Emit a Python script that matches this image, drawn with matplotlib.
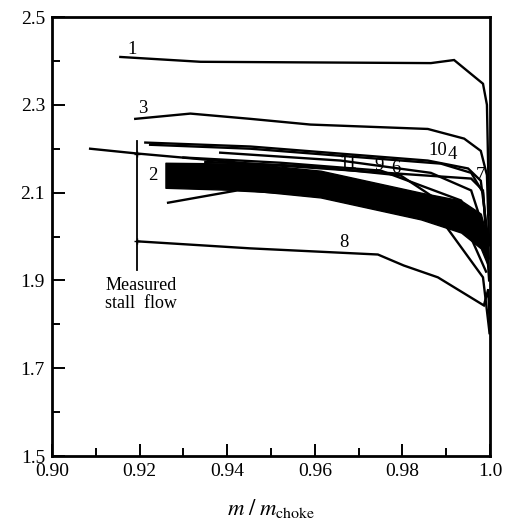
import matplotlib
matplotlib.use("Agg")
import matplotlib.pyplot as plt
from matplotlib.ticker import FixedLocator

plt.rcParams['font.family'] = 'serif'
plt.rcParams['font.serif'] = ['Liberation Serif', 'DejaVu Serif']
plt.rcParams['mathtext.fontset'] = 'stix'

# ---- data ----
c1_x = [0.9156, 0.9339, 0.9865, 0.9918, 0.9984, 0.9993, 0.9998]
c1_y = [2.409, 2.398, 2.395, 2.402, 2.348, 2.30, 2.05]

c3_x = [0.9190, 0.9316, 0.9453, 0.9590, 0.9858, 0.9941, 0.9979, 0.9993, 0.9998]
c3_y = [2.268, 2.280, 2.268, 2.255, 2.245, 2.223, 2.195, 2.14, 1.98]

c10_x = [0.9213, 0.9453, 0.9858, 0.9950, 0.9979, 0.9995]
c10_y = [2.214, 2.205, 2.173, 2.155, 2.127, 2.00]

c4_x = [0.9224, 0.9453, 0.9888, 0.9957, 0.9984, 0.9997]
c4_y = [2.209, 2.200, 2.166, 2.145, 2.100, 1.95]

c7_x = [0.9087, 0.9195, 0.9453, 0.9957, 0.9984, 0.9998]
c7_y = [2.200, 2.189, 2.166, 2.132, 2.105, 1.90]

c11_x = [0.9384, 0.9659, 0.9865, 0.9957, 0.9991]
c11_y = [2.191, 2.173, 2.145, 2.105, 2.00]

c9_x = [0.9300, 0.9522, 0.9751, 0.9934, 0.9986]
c9_y = [2.180, 2.168, 2.150, 2.082, 1.98]

c6_x = [0.9350, 0.9590, 0.9796, 0.9934, 0.9991]
c6_y = [2.170, 2.160, 2.139, 2.048, 1.92]

band_x = [0.9259, 0.9453, 0.9613, 0.9842, 0.9934, 0.9979, 0.9995]
band_top = [2.168, 2.166, 2.150, 2.100, 2.082, 2.052, 1.991]
band_bot = [2.111, 2.105, 2.089, 2.039, 2.009, 1.973, 1.934]

low_x = [0.9265, 0.9423, 0.9613]
low_y = [2.077, 2.105, 2.095]

steep_x = [0.9842, 0.9888, 0.9984, 0.9999]
steep_y = [2.050, 2.039, 1.907, 1.78]

c8_x = [0.9195, 0.9453, 0.9744, 0.9803, 0.9881, 0.9986, 0.9996, 1.0]
c8_y = [1.989, 1.973, 1.959, 1.934, 1.907, 1.843, 1.88, 1.78]

stall_x = [0.9195, 0.9195]
stall_y = [2.218, 1.923]

labels = ['1', '3', '2', '10', '4', '7', '11', '9', '6', '8']
label_x = [0.9183, 0.9208, 0.9229, 0.9881, 0.9915, 0.9979, 0.9677, 0.9746, 0.9785, 0.9666]
label_y = [2.427, 2.291, 2.140, 2.197, 2.186, 2.139, 2.166, 2.161, 2.155, 1.986]

xticks_major = [0.90, 0.92, 0.94, 0.96, 0.98, 1.0]
xtick_labels = ['0.90', '0.92', '0.94', '0.96', '0.98', '1.0']
xticks_minor = [0.91, 0.93, 0.95, 0.97, 0.99]
yticks_major = [1.5, 1.7, 1.9, 2.1, 2.3, 2.5]
ytick_labels = ['1.5', '1.7', '1.9', '2.1', '2.3', '2.5']
yticks_minor = [1.6, 1.8, 2.0, 2.2, 2.4]

# ---- figure ----
fig = plt.figure(figsize=(5.11, 5.25), dpi=100)
ax = fig.add_axes([0.1018, 0.1314, 0.8571, 0.8362])

lw = 1.7
for xs, ys in [(c1_x, c1_y), (c3_x, c3_y), (c10_x, c10_y), (c4_x, c4_y),
               (c7_x, c7_y), (c11_x, c11_y), (c9_x, c9_y), (c6_x, c6_y),
               (low_x, low_y), (steep_x, steep_y), (c8_x, c8_y)]:
    ax.plot(xs, ys, color='black', lw=lw, solid_joinstyle='miter')

ax.fill_between(band_x, band_bot, band_top, color='black', lw=1.0, edgecolor='black')
ax.plot(stall_x, stall_y, color='black', lw=1.3)
ax.plot([stall_x[0]] * 2, [2.189, 1.989], ls='none', marker='+', ms=5, mew=1.0, color='black')

for t, x, y in zip(labels, label_x, label_y):
    ax.text(x, y, t, fontsize=13.5, ha='center', va='center', color='black')

ax.text(0.9204, 1.868, 'Measured\nstall  flow', fontsize=13, ha='center', va='center',
        linespacing=1.05, color='black')

ax.set_xlim(0.90, 1.0)
ax.set_ylim(1.5, 2.5)
ax.xaxis.set_major_locator(FixedLocator(xticks_major))
ax.xaxis.set_minor_locator(FixedLocator(xticks_minor))
ax.yaxis.set_major_locator(FixedLocator(yticks_major))
ax.yaxis.set_minor_locator(FixedLocator(yticks_minor))
ax.set_xticklabels(xtick_labels)
ax.set_yticklabels(ytick_labels)
ax.tick_params(which='both', direction='in', width=1.4, labelsize=14, colors='black')
ax.tick_params(which='major', length=9, pad=5)
ax.tick_params(which='minor', length=6)
for s in ax.spines.values():
    s.set_linewidth(2.0)

ax.set_xlabel(r'$m\;/\;m_{\mathrm{choke}}$', fontsize=16.5, labelpad=12)

fig.savefig('out.png', dpi=100)
